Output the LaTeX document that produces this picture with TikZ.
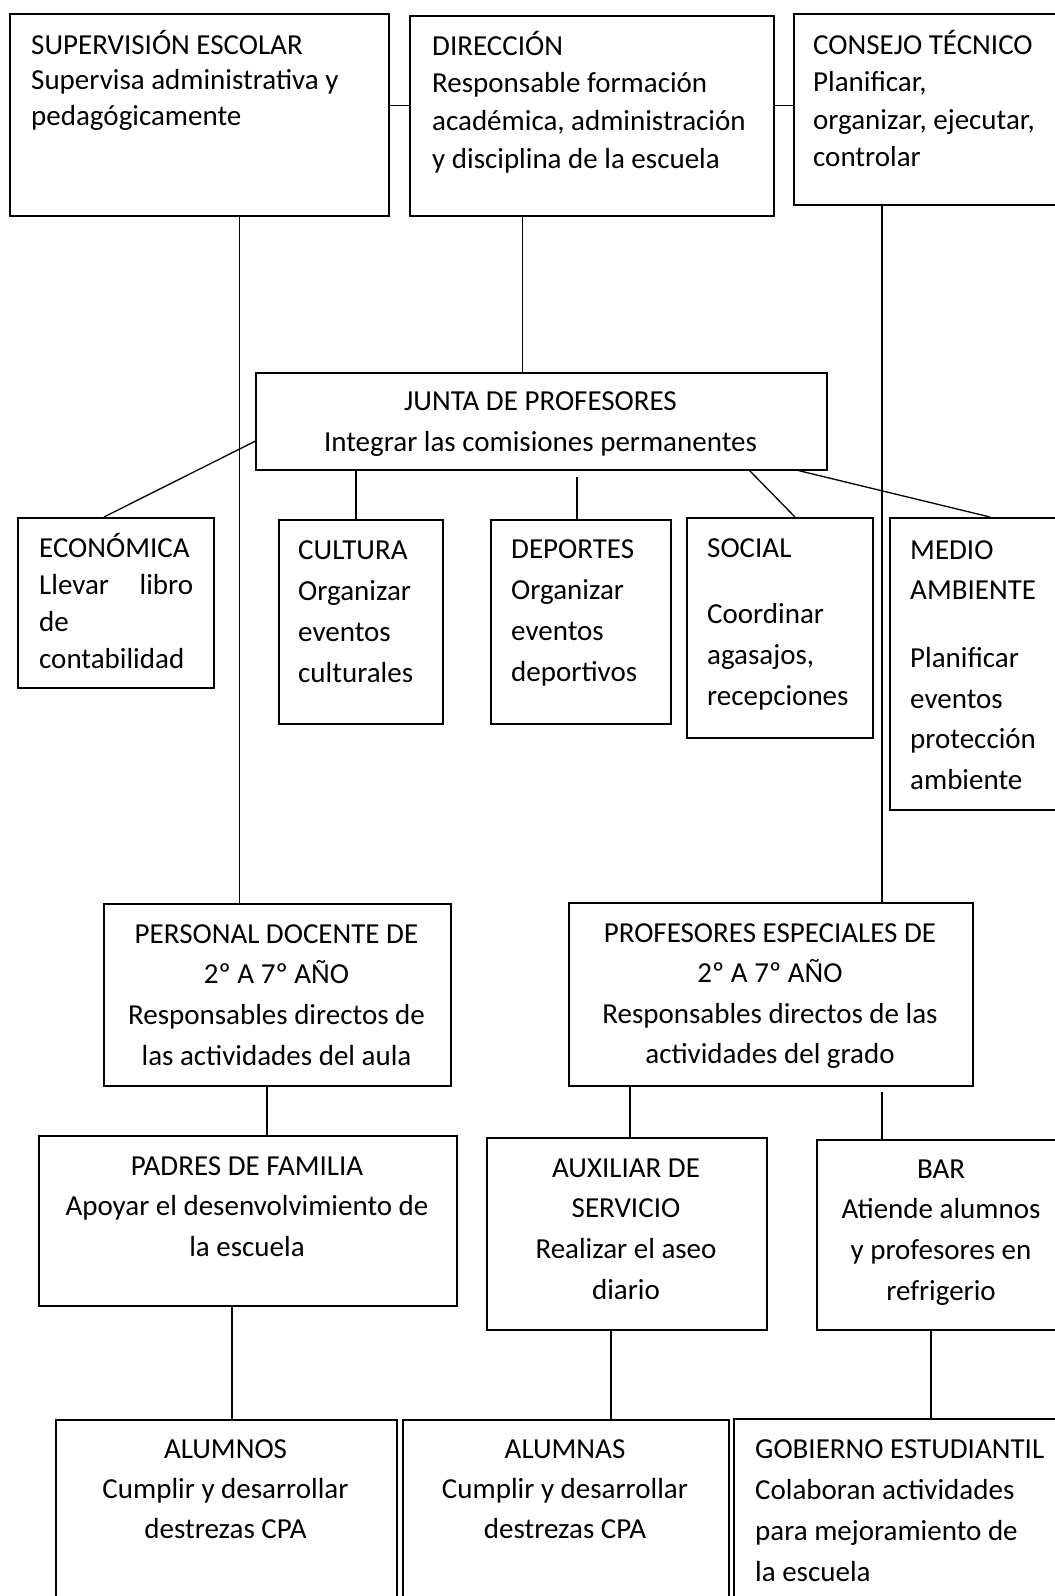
\documentclass[tikz,border=0pt]{standalone}
\usepackage{fontspec}
\setmainfont{Carlito}
\usetikzlibrary{positioning, calc}
\tikzset{
	box/.style={draw, line width=1.6pt, inner sep=0pt, anchor=north west},
	link/.style={draw, line width=1.3pt},
	txt/.style={inner sep=0pt, font=\fontsize{29}{#1}\selectfont},
	txt/.default=41,
	lefttxt/.style={txt=#1, anchor=base west},
	lefttxt/.default=41,
	midtxt/.style={txt=#1, anchor=base},
	midtxt/.default=41
}
% lines of a box, baseline at the first line
\newcommand{\boxlines}[2]{\begin{tabular}[t]{@{}#1@{}}#2\end{tabular}}

\begin{document}
\begin{tikzpicture}[x=1pt, y=-1pt]
	
	% --- Page ---
	\fill[white] (0,0) rectangle (1055,1596);
	\useasboundingbox (0,0) rectangle (1055,1596);
	
	% --- Top row ---
	\node[box, minimum width=379, minimum height=202] (sup) at (9,13) {};
	\node[box, minimum width=364, minimum height=200] (dir) at (409,15) {};
	\node[box, minimum width=290, minimum height=191] (cons) at (793,13) {};
	\node[lefttxt=35.5] (suptxt) at (31,54) {\boxlines{l}{SUPERVISIÓN ESCOLAR\\Supervisa administrativa y\\pedagógicamente}};
	\node[lefttxt=37.8] (dirtxt) at (432,55) {\boxlines{l}{DIRECCIÓN\\Responsable formación\\académica, administración\\y disciplina de la escuela}};
	\node[lefttxt=37.5] (constxt) at (813,54) {\boxlines{l}{CONSEJO TÉCNICO\\Planificar,\\organizar, ejecutar,\\controlar}};
	
	% --- Junta ---
	\node[box, minimum width=571, minimum height=97] (junta) at (255,372) {};
	\node[midtxt=41] (juntatxt) at (540.5,410) {\boxlines{c}{JUNTA DE PROFESORES\\Integrar las comisiones permanentes}};
	
	% --- Comisiones ---
	\node[box, minimum width=196, minimum height=170] (econ) at (17,517) {};
	\node[box, minimum width=164, minimum height=204] (cult) at (278,519) {};
	\node[box, minimum width=180, minimum height=204] (dep) at (490,519) {};
	\node[box, minimum width=186, minimum height=220] (soc) at (686,517) {};
	\node[box, minimum width=200, minimum height=292] (medio) at (889,517) {};
	\node[lefttxt=37] (econtxt) at (39,557) {\boxlines{l}{ECONÓMICA\\\makebox[154pt][s]{Llevar libro}\\de\\contabilidad}};
	\node[lefttxt] (culttxt) at (298,559) {\boxlines{l}{CULTURA\\Organizar\\eventos\\culturales}};
	\node[lefttxt] (deptxt) at (511,558) {\boxlines{l}{DEPORTES\\Organizar\\eventos\\deportivos}};
	\node[lefttxt] (soctxt) at (707,557) {\boxlines{l}{SOCIAL\\[25pt]Coordinar\\agasajos,\\recepciones}};
	\node[lefttxt=40.7] (mediotxt) at (910,559) {\boxlines{l}{MEDIO\\AMBIENTE\\[27pt]Planificar\\eventos\\protección\\ambiente}};
	
	% --- Personal ---
	\node[box, minimum width=347, minimum height=182] (doc) at (103,903) {};
	\node[box, minimum width=404, minimum height=183] (esp) at (568,902) {};
	\node[midtxt=40.7] (doctxt) at (276.5,943) {\boxlines{c}{PERSONAL DOCENTE DE\\2º A 7º AÑO\\Responsables directos de\\las actividades del aula}};
	\node[midtxt=40.5] (esptxt) at (770,942) {\boxlines{c}{PROFESORES ESPECIALES DE\\2º A 7º AÑO\\Responsables directos de las\\actividades del grado}};
	
	% --- Apoyo ---
	\node[box, minimum width=418, minimum height=170] (padres) at (38,1135) {};
	\node[box, minimum width=280, minimum height=192] (aux) at (486,1137) {};
	\node[box, minimum width=250, minimum height=190] (bar) at (816,1139) {};
	\node[midtxt=40.5] (padrestxt) at (247,1175) {\boxlines{c}{PADRES DE FAMILIA\\Apoyar el desenvolvimiento de\\la escuela}};
	\node[midtxt=40.7] (auxtxt) at (626,1177) {\boxlines{c}{AUXILIAR DE\\SERVICIO\\Realizar el aseo\\diario}};
	\node[midtxt=40.7] (bartxt) at (941,1178) {\boxlines{c}{BAR\\Atiende alumnos\\y profesores en\\refrigerio}};
	
	% --- Bottom row ---
	\node[box, minimum width=341, minimum height=250] (alumnos) at (55,1419) {};
	\node[box, minimum width=326, minimum height=250] (alumnas) at (402,1419) {};
	\node[box, minimum width=350, minimum height=250] (gob) at (733,1418) {};
	\node[midtxt=40] (alumnostxt) at (225.5,1458) {\boxlines{c}{ALUMNOS\\Cumplir y desarrollar\\destrezas CPA}};
	\node[midtxt=40] (alumnastxt) at (565,1458) {\boxlines{c}{ALUMNAS\\Cumplir y desarrollar\\destrezas CPA}};
	\node[lefttxt] (gobtxt) at (755,1458) {\boxlines{l}{GOBIERNO ESTUDIANTIL\\Colaboran actividades\\para mejoramiento de\\la escuela}};
	
	% --- Connectors ---
	\draw[link] ([yshift=9]sup.east) -- ([yshift=9]sup.east -| dir.west);
	\draw[link] ([yshift=10]dir.east) -- ([yshift=10]dir.east -| cons.west);
	\draw[link] ([xshift=40.5]sup.south) -- ([xshift=40.5]sup.south |- doc.north);
	\draw[link] ([xshift=-69]dir.south) -- ([xshift=-69]dir.south |- junta.north);
	\draw[link] ([xshift=89]cons.south west) -- ([xshift=89]cons.south west |- esp.north);
	% junta to comisiones
	\draw[link] ([yshift=-20]junta.west) -- ([xshift=87]econ.north west);
	\draw[link] ([xshift=78]cult.north west) -- ([xshift=78]cult.north west |- junta.south);
	\draw[link] ([xshift=87]dep.north west) -- ([xshift=87,yshift=-6]dep.north west |- junta.south);
	\draw[link] ([xshift=-78]junta.south east) -- ([xshift=109]soc.north west);
	\draw[link] ([xshift=-29]junta.south east) -- ([xshift=101]medio.north west);
	% personal to apoyo
	\draw[link] ([xshift=164]doc.south west) -- ([xshift=164]doc.south west |- padres.north);
	\draw[link] ([xshift=62]esp.south west) -- ([xshift=62]esp.south west |- aux.north);
	\draw[link] ([xshift=314,yshift=-5]esp.south west) -- ([xshift=314]esp.south west |- bar.north);
	% apoyo to bottom row
	\draw[link] ([xshift=194]padres.south west) -- ([xshift=194]padres.south west |- alumnos.north);
	\draw[link] ([xshift=125]aux.south west) -- ([xshift=125]aux.south west |- alumnas.north);
	\draw[link] ([xshift=115]bar.south west) -- ([xshift=115]bar.south west |- gob.north);
	
\end{tikzpicture}
\end{document}
